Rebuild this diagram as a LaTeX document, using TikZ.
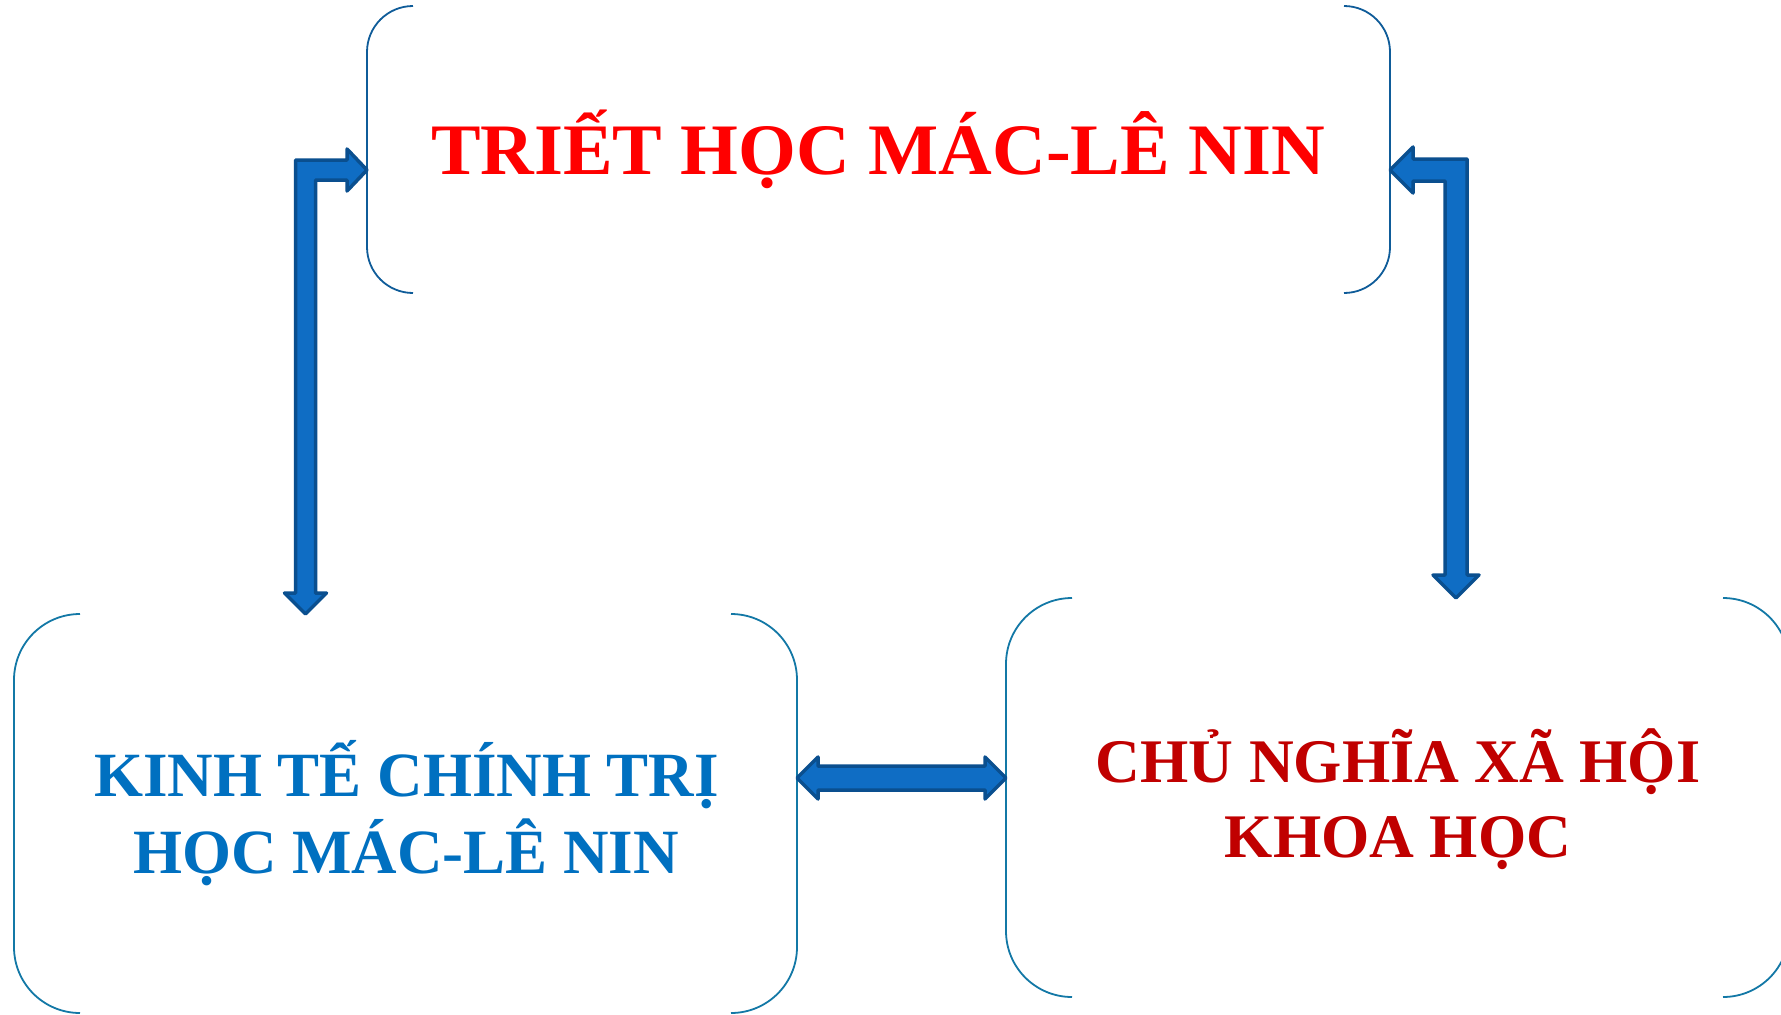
\documentclass[tikz,border=0pt]{standalone}
\usepackage{fontspec}
\setmainfont{Liberation Serif}
\newfontfamily\titlefont[FakeStretch=1.025]{Liberation Serif}
\usetikzlibrary{calc}
\definecolor{titlered}{HTML}{FF0000}
\definecolor{ktblue}{HTML}{0070C0}
\definecolor{cnred}{HTML}{C00000}
\definecolor{topline}{HTML}{0F5C99}
\definecolor{botline}{HTML}{1378A6}
\definecolor{arrowfill}{HTML}{0F6DC4}
\definecolor{arrowline}{HTML}{0A4F8F}
\tikzset{
  boxarea/.style={draw=none, inner sep=0pt, outer sep=0pt},
  bracketline/.style={line width=1.8pt},
  bigarrow/.style={fill=arrowfill, draw=arrowline, line width=3.5pt, line join=round},
  lbl/.style={anchor=base, inner sep=0pt, outer sep=0pt}
}
\begin{document}
\begin{tikzpicture}[x=1pt,y=-1pt]
\useasboundingbox (0,0) rectangle (1781,1015);
\fill[white] (0,0) rectangle (1781,1015);
\clip (0,0) rectangle (1781,1015);

% box areas
\node[boxarea, minimum width=1023pt, minimum height=287pt] (T) at (878.5,149.5) {};
\node[boxarea, minimum width=783pt, minimum height=399pt] (L) at (405.5,813.5) {};
\node[boxarea, minimum width=783pt, minimum height=399pt] (R) at (1397.5,797.5) {};

% brackets
\draw[bracketline, draw=topline, rounded corners=46pt]
  ($(T.north west)+(46,0)$) -- (T.north west) -- (T.south west) -- ($(T.south west)+(46,0)$);
\draw[bracketline, draw=topline, rounded corners=46pt]
  ($(T.north east)+(-46,0)$) -- (T.north east) -- (T.south east) -- ($(T.south east)+(-46,0)$);
\draw[bracketline, draw=botline, rounded corners=66pt]
  ($(L.north west)+(66,0)$) -- (L.north west) -- (L.south west) -- ($(L.south west)+(66,0)$);
\draw[bracketline, draw=botline, rounded corners=66pt]
  ($(L.north east)+(-66,0)$) -- (L.north east) -- (L.south east) -- ($(L.south east)+(-66,0)$);
\draw[bracketline, draw=botline, rounded corners=66pt]
  ($(R.north west)+(66,0)$) -- (R.north west) -- (R.south west) -- ($(R.south west)+(66,0)$);
\draw[bracketline, draw=botline, rounded corners=66pt]
  ($(R.north east)+(-66,0)$) -- (R.north east) -- (R.south east) -- ($(R.south east)+(-66,0)$);

% arrow tips
\coordinate (tipA) at ($(T.west)+(0,20.5)$);
\coordinate (tipB) at ($(L.north)+(-100,0)$);
\coordinate (tipC) at ($(T.east)+(0,20.5)$);
\coordinate (tipD) at ($(R.north)+(58.5,0)$);
\coordinate (tipE) at ($(L.east)+(0,-35.5)$);
\coordinate (tipF) at (R.west |- tipE);

% left bent arrow
\draw[bigarrow] (tipA)
  -- ($(tipA)+(-20,21)$) -- ($(tipA)+(-20,10)$)
  -- ($(tipB |- tipA)+(10,10)$)
  -- ($(tipB)+(10,-21)$) -- ($(tipB)+(21,-21)$)
  -- (tipB)
  -- ($(tipB)+(-21,-21)$) -- ($(tipB)+(-10,-21)$)
  -- ($(tipB |- tipA)+(-10,-10)$)
  -- ($(tipA)+(-20,-10)$) -- ($(tipA)+(-20,-21)$)
  -- cycle;

% right bent arrow
\draw[bigarrow] (tipC)
  -- ($(tipC)+(23,23)$) -- ($(tipC)+(23,11)$)
  -- ($(tipD |- tipC)+(-11,11)$)
  -- ($(tipD)+(-11,-23)$) -- ($(tipD)+(-23,-23)$)
  -- (tipD)
  -- ($(tipD)+(23,-23)$) -- ($(tipD)+(11,-23)$)
  -- ($(tipD |- tipC)+(11,-11)$)
  -- ($(tipC)+(23,-11)$) -- ($(tipC)+(23,-23)$)
  -- cycle;

% horizontal double arrow
\draw[bigarrow] (tipE)
  -- ($(tipE)+(21,-21)$) -- ($(tipE)+(21,-12)$)
  -- ($(tipF)+(-21,-12)$) -- ($(tipF)+(-21,-21)$)
  -- (tipF)
  -- ($(tipF)+(-21,21)$) -- ($(tipF)+(-21,12)$)
  -- ($(tipE)+(21,12)$) -- ($(tipE)+(21,21)$)
  -- cycle;

% texts
\node[lbl, text=titlered, font=\titlefont\bfseries\fontsize{72.5}{87}\selectfont] (title) at (878,174) {TRIẾT HỌC MÁC-LÊ NIN};
\node[lbl, text=ktblue, font=\bfseries\fontsize{63}{76}\selectfont] (kt1) at (406.5,796) {KINH TẾ CHÍNH TRỊ};
\node[lbl, text=ktblue, font=\bfseries\fontsize{63}{76}\selectfont] (kt2) at (406,873) {HỌC MÁC-LÊ NIN};
\node[lbl, text=cnred, font=\bfseries\fontsize{62}{75}\selectfont] (cn1) at (1398,782) {CHỦ NGHĨA XÃ HỘI};
\node[lbl, text=cnred, font=\bfseries\fontsize{62}{75}\selectfont] (cn2) at (1398,857) {KHOA HỌC};
\end{tikzpicture}
\end{document}
